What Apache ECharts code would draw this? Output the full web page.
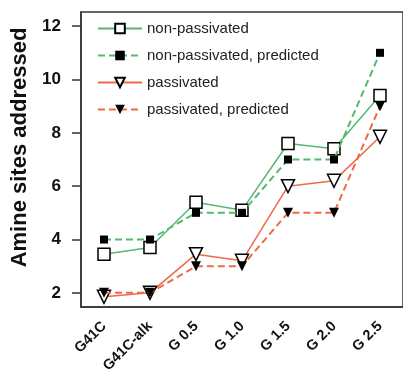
<!DOCTYPE html>
<html><head><meta charset="utf-8">
<script src="https://cdn.jsdelivr.net/npm/echarts@6/dist/echarts.min.js"></script>
<style>html,body{margin:0;padding:0;background:#fff}#c{width:403px;height:381px}</style>
</head><body><div id="c"></div>
<script>
const categories = ['G41C','G41C-alk','G 0.5','G 1.0','G 1.5','G 2.0','G 2.5'];
const nonPassivated = [3.45, 3.7, 5.4, 5.1, 7.6, 7.4, 9.4];
const nonPassivatedPredicted = [4, 4, 5, 5, 7, 7, 11];
const passivated = [1.85, 2.0, 3.45, 3.2, 6.0, 6.2, 7.85];
const passivatedPredicted = [2, 2, 3, 3, 5, 5, 9];
const yTicks = [2, 4, 6, 8, 10, 12];

const green = '#55b870', red = '#ee6a48';
const chart = echarts.init(document.getElementById('c'));
const font = 'Liberation Sans, Arial, sans-serif';
function s(name, data, color, dashed, symbol, fill, size, rot){
  return {name, type:'line', data, symbol, symbolSize:size, symbolRotate:rot||0,
    lineStyle:{color, width: dashed?2:1.5, type: dashed?[7,4]:'solid'},
    itemStyle:{color:fill, borderColor:'#000', borderWidth: fill==='#fff'?1.5:0},
    z: fill==='#fff'?3:4};
}
chart.setOption({
  animation:false,
  grid:{left:81, top:12, right:-4, bottom:74, show:true, borderColor:'#333', borderWidth:1.5},
  legend:{left:92, top:16, orient:'vertical', itemGap:12, itemWidth:44, itemHeight:12,
    textStyle:{fontFamily:font, fontSize:15, color:'#222'}},
  xAxis:{type:'category', data:categories, boundaryGap:true,
    axisLine:{lineStyle:{color:'#333', width:1.5}},
    axisTick:{alignWithLabel:true, length:10, lineStyle:{color:'#333', width:1.5}},
    axisLabel:{rotate:45, fontFamily:font, fontWeight:'bold', fontSize:14.5, color:'#111', margin:17, interval:0}},
  yAxis:{type:'value', min:1.47, max:12.53, interval:2,
    splitLine:{show:false},
    axisLine:{show:true, lineStyle:{color:'#333', width:1.5}},
    axisTick:{show:true, length:9, lineStyle:{color:'#333', width:1.5}, customValues: yTicks},
    axisLabel:{fontFamily:font, fontWeight:'bold', fontSize:17, color:'#111', margin:20,
      customValues: yTicks},
    name:'Amine sites addressed', nameLocation:'middle', nameGap:50,
    nameTextStyle:{fontFamily:font, fontWeight:'bold', fontSize:22, color:'#111', padding:[0,0,0,24]}},
  series:[
    s('non-passivated', nonPassivated, green, false, 'rect', '#fff', 12),
    s('non-passivated, predicted', nonPassivatedPredicted, green, true, 'rect', '#000', 8),
    s('passivated', passivated, red, false, 'triangle', '#fff', 13, 180),
    s('passivated, predicted', passivatedPredicted, red, true, 'triangle', '#000', 10, 180)
  ]
});
</script></body></html>
